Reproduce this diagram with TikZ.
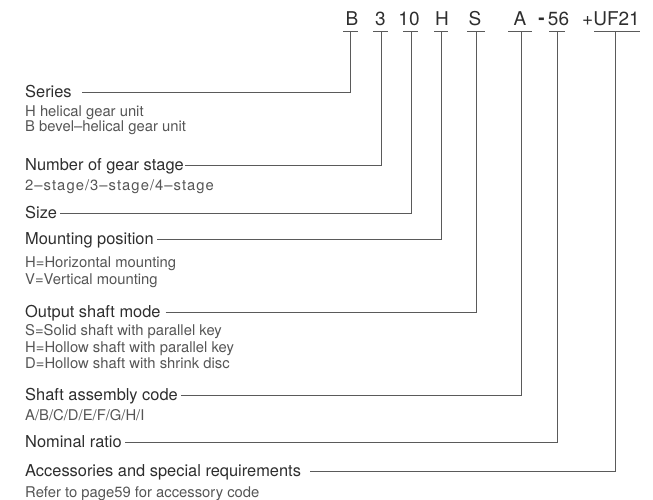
\documentclass[tikz,border=0pt]{standalone}
\usepackage{fontspec}
\setmainfont{TeX Gyre Heros}
\definecolor{maintext}{HTML}{2E2E2E}
\definecolor{subtext}{HTML}{555555}
\definecolor{linecol}{HTML}{5A5A5A}
\begin{document}
\begin{tikzpicture}[x=1pt,y=-1pt,
  lbl/.style={anchor=base west, inner sep=0pt, text height=10pt, text depth=0pt,
              font=\fontsize{16.4}{18}\selectfont, text=maintext},
  subl/.style={anchor=base west, inner sep=0pt, font=\fontsize{14.8}{17}\selectfont, text=subtext},
  code/.style={anchor=base, inner sep=0pt, font=\fontsize{19}{21}\selectfont, text=maintext},
  ln/.style={draw=linecol, line width=1pt}]
\useasboundingbox (0,0) rectangle (653,499);

% code letters
\node[code] (tB)  at (352,25) {B};
\node[code] (t3)  at (380.5,25) {3};
\node[code] (t10) at (409,25) {10};
\node[code] (tH)  at (442,25) {H};
\node[code] (tS)  at (475,25) {S};
\node[code] (tA)  at (520,25) {A};
\node[code] (tdash) at (541.5,24.5) {\bfseries -};
\node[code] (t56) at (558.5,25) {56};
\node[code] (tUF) at (611,25) {+UF21};

% underline anchor points
\coordinate (uB)  at (350,31);
\coordinate (u3)  at (381,31);
\coordinate (u10) at (411,31);
\coordinate (uH)  at (441,31);
\coordinate (uS)  at (476,31);
\coordinate (uA)  at (521,31);
\coordinate (u56) at (557,31);
\coordinate (uUF) at (615,31);

\draw[ln] ([xshift=-7pt]uB) -- ([xshift=8pt]uB);
\draw[ln] ([xshift=-8pt]u3) -- ([xshift=7pt]u3);
\draw[ln] ([xshift=-8pt]u10) -- ([xshift=7pt]u10);
\draw[ln] ([xshift=-7pt]uH) -- ([xshift=7pt]uH);
\draw[ln] ([xshift=-9pt]uS) -- ([xshift=9pt]uS);
\draw[ln] ([xshift=-13pt]uA) -- ([xshift=11pt]uA);
\draw[ln] ([xshift=-8pt]u56) -- ([xshift=8pt]u56);
\draw[ln] ([xshift=-21pt]uUF) -- ([xshift=25pt]uUF);

% labels
\node[lbl] (series) at (25,97) {Series};
\node[subl] (s1) at (25,116) {H helical gear unit};
\node[subl] (s2) at (25,131) {B bevel–helical gear unit};

\node[lbl] (stage) at (25,170) {Number of gear stage};
\node[subl] (st1) at (25,190) {\addfontfeatures{LetterSpace=7}2–stage/3–stage/4–stage};

\node[lbl] (size) at (25,218) {Size};

\node[lbl] (mount) at (25,244) {Mounting position};
\node[subl] (m1) at (25,267) {H=Horizontal mounting};
\node[subl] (m2) at (25,284) {V=Vertical mounting};

\node[lbl] (output) at (25,317) {Output shaft mode};
\node[subl] (o1) at (25,335) {S=Solid shaft with parallel key};
\node[subl] (o2) at (25,352) {H=Hollow shaft with parallel key};
\node[subl] (o3) at (25,368) {D=Hollow shaft with shrink disc};

\node[lbl] (assembly) at (25,400) {Shaft assembly code};
\node[subl] (a1) at (25,420) {A/B/C/D/E/F/G/H/I};

\node[lbl] (ratio) at (25,447) {Nominal ratio};

\node[lbl] (acc) at (25,476) {Accessories and special requirements};
\node[subl] (ac1) at (25,497) {Refer to page59 for accessory code};

% connectors
\draw[ln] ([xshift=10.5pt]series.east) -| (uB);
\draw[ln] ([xshift=1pt]stage.east) -| (u3);
\draw[ln] ([xshift=3pt]size.east) -| (u10);
\draw[ln] ([xshift=3.5pt]mount.east) -| (uH);
\draw[ln] ([xshift=5pt]output.east) -| (uS);
\draw[ln] ([xshift=3pt]assembly.east) -| (uA);
\draw[ln] ([xshift=3.5pt]ratio.east) -| (u56);
\draw[ln] ([xshift=9pt]acc.east) -| (uUF);
\end{tikzpicture}
\end{document}
